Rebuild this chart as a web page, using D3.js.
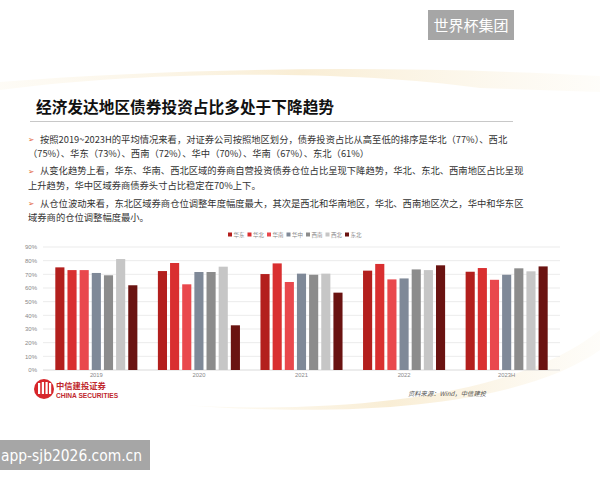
<!DOCTYPE html>
<html>
<head>
<meta charset="utf-8">
<title>经济发达地区债券投资占比</title>
<script src="https://d3js.org/d3.v7.min.js"></script>
<style>
  body { margin: 0; background: #fff; }
  text { font-family: "Noto Sans CJK SC", "Noto Sans", sans-serif; }
</style>
</head>
<body>
<div id="container"></div>
<script>
// data
var years = ["2019", "2020", "2021", "2022", "2023H"];
var regions = ["华东", "华北", "华南", "华中", "西南", "西北", "东北"];
var colors = ["#b31f1d", "#d92f30", "#e9484d", "#7f8998", "#8c8c8c", "#c6c6c6", "#6a1311"];
var values = {
  "华东": [0.751, 0.724, 0.702, 0.727, 0.719],
  "华北": [0.731, 0.783, 0.780, 0.776, 0.746],
  "华南": [0.731, 0.627, 0.644, 0.663, 0.660],
  "华中": [0.710, 0.717, 0.705, 0.670, 0.697],
  "西南": [0.693, 0.717, 0.697, 0.736, 0.744],
  "西北": [0.812, 0.756, 0.705, 0.731, 0.722],
  "东北": [0.620, 0.327, 0.566, 0.766, 0.758]
};
var yTicks = [0, 0.1, 0.2, 0.3, 0.4, 0.5, 0.6, 0.7, 0.8, 0.9];

var title = "经济发达地区债券投资占比多处于下降趋势";
var bullets = [
  ["按照2019~2023H的平均情况来看，对证券公司按照地区划分，债券投资占比从高至低的排序是华北（77%）、西北",
   "（75%）、华东（73%）、西南（72%）、华中（70%）、华南（67%）、东北（61%）"],
  ["从变化趋势上看，华东、华南、西北区域的券商自营投资债券仓位占比呈现下降趋势，华北、东北、西南地区占比呈现",
   "上升趋势，华中区域券商债券头寸占比稳定在70%上下。"],
  ["从仓位波动来看，东北区域券商仓位调整年度幅度最大，其次是西北和华南地区，华北、西南地区次之，华中和华东区",
   "域券商的仓位调整幅度最小。"]
];

var width = 600, height = 480;
var svg = d3.select("#container").append("svg").attr("width", width).attr("height", height);

// background swooshes
var defs = svg.append("defs");
var grad = defs.append("linearGradient").attr("id", "gold").attr("x1", 0).attr("x2", 1);
grad.append("stop").attr("offset", 0).attr("stop-color", "#f6e7c4").attr("stop-opacity", 0.15);
grad.append("stop").attr("offset", 0.5).attr("stop-color", "#f3dcab").attr("stop-opacity", 0.5);
grad.append("stop").attr("offset", 1).attr("stop-color", "#f6e7c4").attr("stop-opacity", 0.1);
svg.append("path").attr("d", "M0,90 C150,70 350,70 480,88 L600,92 L600,76 C420,66 200,66 0,82 Z").attr("fill", "url(#gold)");
svg.append("path").attr("d", "M180,405 C350,415 520,395 600,330 L600,350 C530,400 380,420 180,405 Z").attr("fill", "url(#gold)");

// watermark
svg.append("rect").attr("x", 428).attr("y", 10).attr("width", 86).attr("height", 30).attr("fill", "#a6a6a6");
svg.append("text").attr("x", 471).attr("y", 31).attr("text-anchor", "middle").attr("fill", "#fff")
  .attr("font-size", 15).text("世界杯集团");
svg.append("rect").attr("x", 0).attr("y", 440).attr("width", 150).attr("height", 30).attr("fill", "#a6a6a6");
svg.append("text").attr("x", 1).attr("y", 461).attr("fill", "#fff")
  .attr("font-size", 15).attr("textLength", 141).attr("lengthAdjust", "spacingAndGlyphs")
  .style("font-family", "DejaVu Sans, sans-serif").text("app-sjb2026.com.cn");

// title
svg.append("text").attr("x", 36).attr("y", 113).attr("font-size", 15.7).attr("font-weight", "bold")
  .attr("fill", "#111").text(title);
svg.append("line").attr("x1", 30).attr("x2", 513).attr("y1", 121.5).attr("y2", 121.5)
  .attr("stroke", "#c8c8c8").attr("stroke-width", 1);

// bullet text
var lineY = [[142.5, 156.5], [174, 188.5], [206.5, 221]];
bullets.forEach(function(p, i) {
  svg.append("text").attr("x", 28).attr("y", lineY[i][0] - 0.5).attr("font-size", 7.5).attr("fill", "#e0572a")
    .style("font-family", "DejaVu Sans, sans-serif").text("➢");
  svg.append("text").attr("x", 40).attr("y", lineY[i][0]).attr("font-size", 9.3).attr("fill", "#333").text(p[0]);
  svg.append("text").attr("x", 28).attr("y", lineY[i][1]).attr("font-size", 9.3).attr("fill", "#333").text(p[1]);
});

// chart
var x0 = d3.scaleBand().domain(years).range([43, 560]).paddingInner(0.2).paddingOuter(0.12);
var x1 = d3.scaleBand().domain(regions).range([0, x0.bandwidth()]).paddingInner(0.25);
var y = d3.scaleLinear().domain([0, 0.9]).range([370, 247]);

var grid = svg.append("g");
grid.selectAll("line").data(yTicks).enter().append("line")
  .attr("x1", 43).attr("x2", 560)
  .attr("y1", function(d) { return y(d); }).attr("y2", function(d) { return y(d); })
  .attr("stroke", function(d) { return d === 0 ? "#d0d0d0" : "#e6e6e6"; }).attr("stroke-width", 0.8);

var yAxis = d3.axisLeft(y).tickValues(yTicks).tickFormat(d3.format(".0%")).tickSize(0).tickPadding(3);
svg.append("g").attr("transform", "translate(40,0)").call(yAxis)
  .call(function(g) { g.select(".domain").remove(); })
  .selectAll("text").attr("font-size", 6).attr("fill", "#888").style("font-family", "Liberation Sans, sans-serif");

var xAxis = d3.axisBottom(x0).tickSize(0).tickPadding(3);
svg.append("g").attr("transform", "translate(0,370)").call(xAxis)
  .call(function(g) { g.select(".domain").remove(); })
  .selectAll("text").attr("font-size", 5.8).attr("fill", "#888").style("font-family", "Liberation Sans, sans-serif");

var groups = svg.append("g").selectAll("g").data(years).enter().append("g")
  .attr("transform", function(d) { return "translate(" + x0(d) + ",0)"; });
groups.selectAll("rect")
  .data(function(yr, yi) { return regions.map(function(r, ri) { return {r: r, v: values[r][yi], c: colors[ri]}; }); })
  .enter().append("rect")
  .attr("x", function(d) { return x1(d.r); })
  .attr("width", x1.bandwidth())
  .attr("y", function(d) { return y(d.v); })
  .attr("height", function(d) { return y(0) - y(d.v); })
  .attr("fill", function(d) { return d.c; });

// legend
var legend = svg.append("g").attr("transform", "translate(228,236)");
var item = legend.selectAll("g").data(regions).enter().append("g")
  .attr("transform", function(d, i) { return "translate(" + (i * 19.5) + ",0)"; });
item.append("rect").attr("x", 0).attr("y", -3.5).attr("width", 4).attr("height", 4)
  .attr("fill", function(d, i) { return colors[i]; });
item.append("text").attr("x", 5.5).attr("y", 0.5).attr("font-size", 5.5).attr("fill", "#888").text(function(d) { return d; });

// footer logo
var logo = svg.append("g").attr("transform", "translate(44,389)");
logo.append("circle").attr("r", 10).attr("fill", "#d7262b");
logo.append("rect").attr("x", -6).attr("y", -6).attr("width", 2.2).attr("height", 11).attr("fill", "#fff");
logo.append("rect").attr("x", -2.2).attr("y", -7).attr("width", 2.2).attr("height", 12).attr("fill", "#fff");
logo.append("rect").attr("x", 1.5).attr("y", -7).attr("width", 2.2).attr("height", 12).attr("fill", "#fff");
logo.append("rect").attr("x", 5).attr("y", -6).attr("width", 2.2).attr("height", 11).attr("fill", "#fff");
svg.append("text").attr("x", 56).attr("y", 388.5).attr("font-size", 8.3).attr("font-weight", "bold")
  .attr("fill", "#c0282d").text("中信建投证券");
svg.append("text").attr("x", 56).attr("y", 398).attr("font-size", 6.6).attr("font-weight", "bold")
  .attr("fill", "#c0282d").style("font-family", "Liberation Sans, sans-serif").text("CHINA SECURITIES");

svg.append("text").attr("x", 408).attr("y", 395.5).attr("font-size", 6.3).attr("font-style", "italic")
  .attr("fill", "#555").text("资料来源：Wind，中信建投");
</script>
</body>
</html>
